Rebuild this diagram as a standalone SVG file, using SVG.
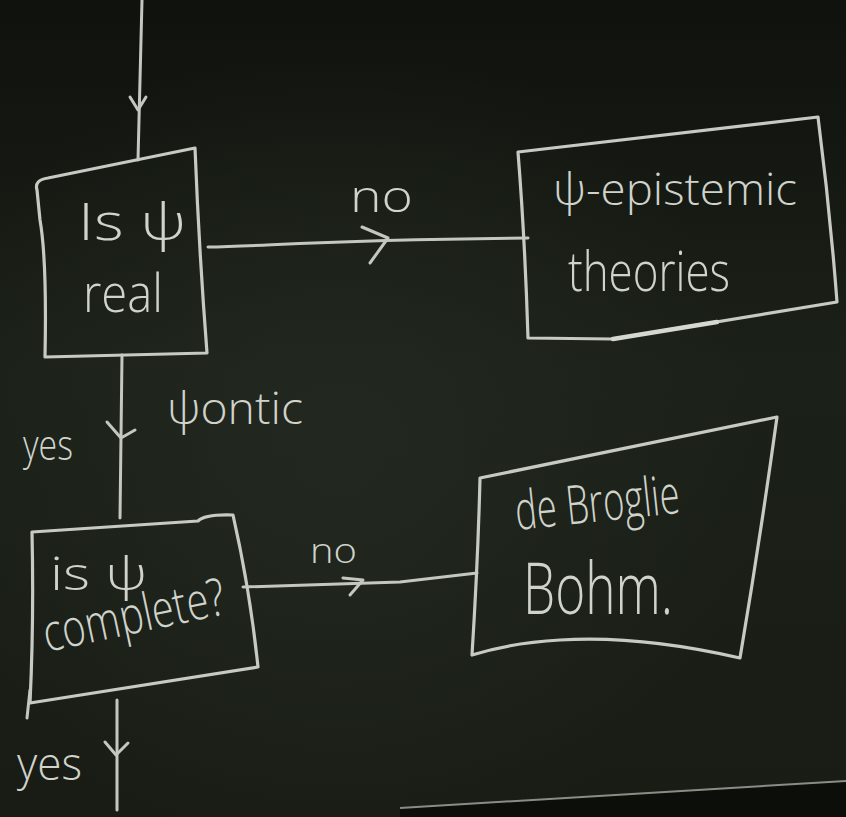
<svg xmlns="http://www.w3.org/2000/svg" width="846" height="817" viewBox="0 0 846 817">
  <defs>
    <linearGradient id="board" x1="0" y1="0" x2="0" y2="1">
      <stop offset="0" stop-color="#0f120d"/>
      <stop offset="0.45" stop-color="#1b2018"/>
      <stop offset="1" stop-color="#181c15"/>
    </linearGradient>
    <radialGradient id="glow" cx="0.4" cy="0.55" r="0.5">
      <stop offset="0" stop-color="#262c23" stop-opacity="0.7"/>
      <stop offset="1" stop-color="#262c23" stop-opacity="0"/>
    </radialGradient>
    <style>
      .chalk { fill: none; stroke: #c3c7bf; stroke-width: 3; stroke-linecap: round; stroke-linejoin: round; }
      .edge { fill: none; stroke: #c6cac2; stroke-width: 3.2; stroke-linecap: round; stroke-linejoin: round; }
      .txt { fill: #cfd3cb; font-family: "Open Sans", "DejaVu Sans", sans-serif; font-weight: 300; }
    </style>
  </defs>

  <!-- board -->
  <rect x="0" y="0" width="846" height="817" fill="url(#board)"/>
  <rect x="0" y="0" width="846" height="817" fill="url(#glow)"/>
  <path d="M400,808 L846,781 L846,817 L400,817 Z" fill="#0c0e0a"/>
  <path d="M400,808 L846,781" fill="none" stroke="#8a8d86" stroke-width="2"/>

  <!-- connectors -->
  <g id="connectors">
    <path class="chalk" d="M142,0 L138,160"/>
    <path class="chalk" d="M130,97 L138,110 L146,97"/>

    <path class="chalk" d="M208,247 C270,246 320,240 528,238"/>
    <path class="chalk" d="M362,227 L388,238 L370,263"/>

    <path class="chalk" d="M122,355 L120,518"/>
    <path class="chalk" d="M107,422 L121,438 L135,430"/>

    <path class="chalk" d="M243,587 L400,582 L477,573"/>
    <path class="chalk" d="M343,578 L363,580 L350,595"/>

    <path class="chalk" d="M117,700 L117,810"/>
    <path class="chalk" d="M105,742 L116,755 L128,743"/>
  </g>

  <!-- node: is psi real -->
  <g id="node-real">
    <path class="edge" d="M37,190 Q34,180 48,178 L195,148 Q199,250 207,353 L45,357 Q47,260 40,220 Q38,200 37,190 Z"/>
    <text class="txt" x="78" y="240" font-size="52" textLength="108" lengthAdjust="spacingAndGlyphs">Is ψ</text>
    <text class="txt" x="83" y="312" font-size="54" textLength="80" lengthAdjust="spacingAndGlyphs">real</text>
  </g>

  <!-- node: psi-epistemic theories -->
  <g id="node-epistemic">
    <path class="edge" d="M518,152 L818,117 Q830,210 837,302 L613,339 L528,338 Q525,240 518,152 Z"/>
    <path d="M613,339 L717,322" fill="none" stroke="#d4d8d0" stroke-width="4.5" stroke-linecap="round"/>
    <text class="txt" x="553" y="205" font-size="44" textLength="244" lengthAdjust="spacingAndGlyphs">ψ-epistemic</text>
    <text class="txt" x="568" y="291" font-size="56" textLength="162" lengthAdjust="spacingAndGlyphs">theories</text>
  </g>

  <!-- node: is psi complete? -->
  <g id="node-complete">
    <path class="edge" d="M32,532 L198,521 Q205,514 233,515 Q250,590 258,667 L30,703 Q34,620 32,532 Z"/>
    <path class="chalk" d="M30,690 L27,718"/>
    <text class="txt" x="50" y="590" font-size="46" textLength="97" lengthAdjust="spacingAndGlyphs">is ψ</text>
    <text class="txt" x="47" y="652" font-size="52" textLength="185" lengthAdjust="spacingAndGlyphs" transform="rotate(-12 47 652)">complete?</text>
  </g>

  <!-- node: de Broglie Bohm -->
  <g id="node-bohm">
    <path class="edge" d="M480,478 L777,417 Q760,540 740,658 Q640,635 560,640 Q510,643 472,655 Q478,560 480,478 Z"/>
    <text class="txt" x="517" y="530" font-size="54" textLength="165" lengthAdjust="spacingAndGlyphs" transform="rotate(-6 517 530)">de Broglie</text>
    <text class="txt" x="523" y="614" font-size="72" textLength="150" lengthAdjust="spacingAndGlyphs">Bohm.</text>
  </g>

  <!-- connector labels -->
  <g id="labels">
    <text class="txt" x="350" y="212" font-size="44" textLength="63" lengthAdjust="spacingAndGlyphs">no</text>
    <text class="txt" x="310" y="563" font-size="34" textLength="47" lengthAdjust="spacingAndGlyphs">no</text>
    <text class="txt" x="167" y="424" font-size="44" textLength="136" lengthAdjust="spacingAndGlyphs">ψontic</text>
    <text class="txt" x="23" y="460" font-size="42" textLength="50" lengthAdjust="spacingAndGlyphs">yes</text>
    <text class="txt" x="17" y="780" font-size="46" textLength="65" lengthAdjust="spacingAndGlyphs">yes</text>
  </g>
</svg>
